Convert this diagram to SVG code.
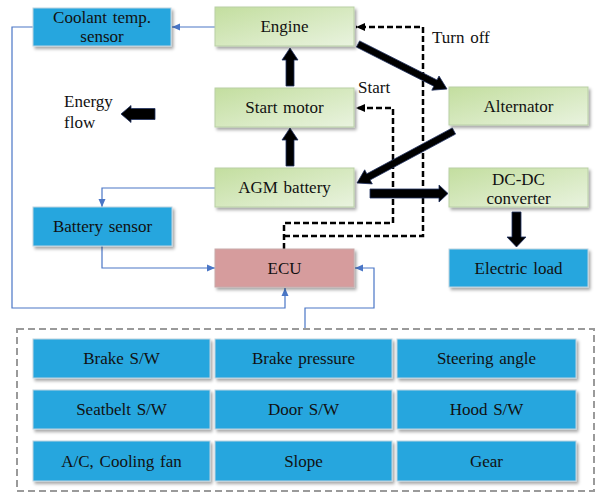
<svg xmlns="http://www.w3.org/2000/svg" width="599" height="493" viewBox="0 0 599 493">
<style>
text{font-family:"Liberation Serif","Times New Roman",serif;font-size:17px;fill:#111;text-anchor:middle;word-spacing:1.5px}
.lbl{text-anchor:start}
.g{fill:url(#green);stroke:#b9cfa6;stroke-width:1}
.b{fill:#28a6de;stroke:#bcd3e0;stroke-width:1}
.e{fill:#d69c9d;stroke:#c7a9aa;stroke-width:1}
.thin{fill:none;stroke:#4a76c6;stroke-width:1.2}
.dash{fill:none;stroke:#000;stroke-width:2.5;stroke-dasharray:6 3}
.big{fill:#000;stroke:#1f3060;stroke-width:0.8}
</style>
<defs>
<linearGradient id="green" x1="0" y1="0" x2="1" y2="1">
<stop offset="0" stop-color="#c3de9f"/>
<stop offset="1" stop-color="#e9f3df"/>
</linearGradient>
<filter id="sh" x="-10%" y="-20%" width="125%" height="150%">
<feDropShadow dx="2" dy="2.5" stdDeviation="1.5" flood-color="#000" flood-opacity="0.35"/>
</filter>
<marker id="ab" viewBox="0 0 8 8" refX="8" refY="4" markerWidth="8" markerHeight="8" markerUnits="userSpaceOnUse" orient="auto">
<path d="M0,0.5 L8,4 L0,7.5 z" fill="#4a76c6"/>
</marker>
<marker id="ak" viewBox="0 0 9 8" refX="9" refY="4" markerWidth="9" markerHeight="8" markerUnits="userSpaceOnUse" orient="auto">
<path d="M0,0 L9,4 L0,8 z" fill="#000"/>
</marker>
</defs>

<g id="connectors">
<path class="thin" d="M215,27 H172" marker-end="url(#ab)"/>
<path class="thin" d="M33,27 H12 V308 H285 V288" marker-end="url(#ab)"/>
<path class="thin" d="M215,188 H102 V207" marker-end="url(#ab)"/>
<path class="thin" d="M102,246 V268 H215" marker-end="url(#ab)"/>
<path class="thin" d="M305,329 V308 H374 V268 H355" marker-end="url(#ab)"/>
<path class="dash" d="M284,249 V223 H393 V108 H356" marker-end="url(#ak)"/>
<path class="dash" d="M284,236 H423 V27 H356" marker-end="url(#ak)"/>
<polygon class="big" points="290,48 298,60 294,60 294,86 286,86 286,60 282,60"/>
<polygon class="big" points="290,128 298,140 294,140 294,166 286,166 286,140 282,140"/>
<polygon class="big" points="121,114 131,105.5 131,108.5 155,108.5 155,119.5 131,119.5 131,122.5"/>
<polygon class="big" points="516.5,247 526,237 521,237 521,212 512,212 512,237 507,237"/>
<polygon class="big" points="448,193.5 439,185 439,189 370,189 370,198 439,198 439,202"/>
<polygon class="big" points="356.4,47.1 433.8,86.2 431.8,90.2 447,89 439,76 437,80 359.6,40.9"/>
<polygon class="big" points="452.3,127.9 366.8,173.8 364.7,169.8 357,183 372.3,183.9 370.1,180 455.6,134.1"/>
</g>

<g id="coolant"><rect class="b" x="33" y="8" width="138" height="38" filter="url(#sh)"/><text x="102" y="23">Coolant temp.</text><text x="102" y="42">sensor</text></g>
<g id="engine"><rect class="g" x="215" y="7" width="139" height="39" filter="url(#sh)"/><text x="284.5" y="32">Engine</text></g>
<g id="startmotor"><rect class="g" x="215" y="88" width="139" height="39" filter="url(#sh)"/><text x="284.5" y="113">Start motor</text></g>
<g id="agm"><rect class="g" x="215" y="168" width="139" height="39" filter="url(#sh)"/><text x="284.5" y="193">AGM battery</text></g>
<g id="ecu"><rect class="e" x="215" y="249" width="139" height="38" filter="url(#sh)"/><text x="284.5" y="274">ECU</text></g>
<g id="batsensor"><rect class="b" x="33" y="207" width="139" height="39" filter="url(#sh)"/><text x="102.5" y="232">Battery sensor</text></g>
<g id="alternator"><rect class="g" x="449" y="87" width="139" height="38" filter="url(#sh)"/><text x="518.5" y="112">Alternator</text></g>
<g id="dcdc"><rect class="g" x="449" y="168" width="139" height="39" filter="url(#sh)"/><text x="518.5" y="185">DC-DC</text><text x="518.5" y="204">converter</text></g>
<g id="load"><rect class="b" x="449" y="249" width="139" height="38" filter="url(#sh)"/><text x="518.5" y="274">Electric load</text></g>

<g id="labels">
<text class="lbl" x="64" y="107">Energy</text>
<text class="lbl" x="64" y="128">flow</text>
<text class="lbl" x="432" y="43">Turn off</text>
<text class="lbl" x="358" y="93">Start</text>
</g>

<g id="inputs">
<rect x="17" y="329" width="577" height="162" fill="none" stroke="#9a9a9a" stroke-width="2" stroke-dasharray="7 4"/>
<g id="in1"><rect class="b" x="33" y="339" width="177" height="39" filter="url(#sh)"/><text x="121.5" y="364">Brake S/W</text></g>
<g id="in2"><rect class="b" x="215" y="339" width="177" height="39" filter="url(#sh)"/><text x="303.5" y="364">Brake pressure</text></g>
<g id="in3"><rect class="b" x="397" y="339" width="179" height="39" filter="url(#sh)"/><text x="486.5" y="364">Steering angle</text></g>
<g id="in4"><rect class="b" x="33" y="390" width="177" height="39" filter="url(#sh)"/><text x="121.5" y="415">Seatbelt S/W</text></g>
<g id="in5"><rect class="b" x="215" y="390" width="177" height="39" filter="url(#sh)"/><text x="303.5" y="415">Door S/W</text></g>
<g id="in6"><rect class="b" x="397" y="390" width="179" height="39" filter="url(#sh)"/><text x="486.5" y="415">Hood S/W</text></g>
<g id="in7"><rect class="b" x="33" y="441" width="177" height="40" filter="url(#sh)"/><text x="121.5" y="467">A/C, Cooling fan</text></g>
<g id="in8"><rect class="b" x="215" y="441" width="177" height="40" filter="url(#sh)"/><text x="303.5" y="467">Slope</text></g>
<g id="in9"><rect class="b" x="397" y="441" width="179" height="40" filter="url(#sh)"/><text x="486.5" y="467">Gear</text></g>
</g>
</svg>
